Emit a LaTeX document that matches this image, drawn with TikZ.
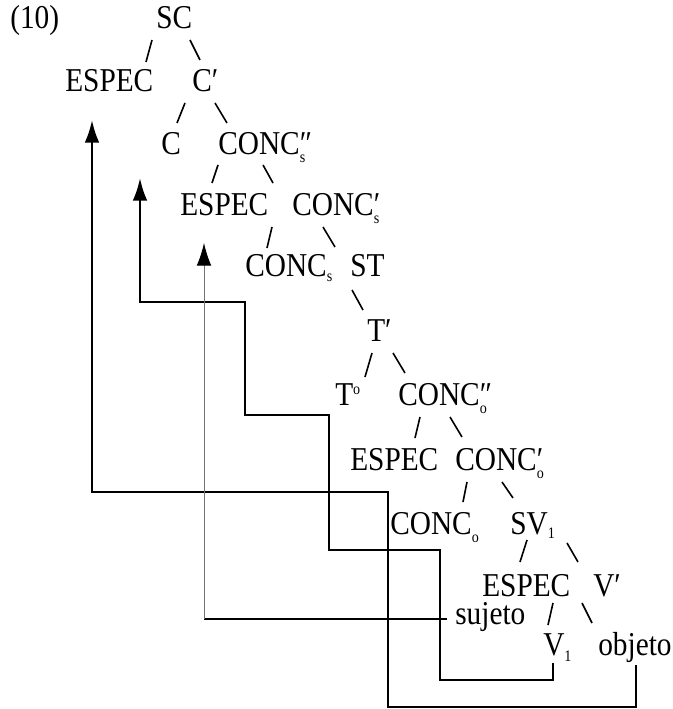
\documentclass[tikz,border=0pt]{standalone}
\usepackage{fontspec}
\setmainfont{Liberation Serif}[FakeStretch=0.88]
\usetikzlibrary{arrows.meta,calc}

% subscript lowered below the baseline, and prime stacked over a subscript
\newcommand\lo[2][-6pt]{\raisebox{#1}{\fontsize{12pt}{12pt}\selectfont #2}}
\newcommand\pl[2]{\rlap{#1}\lo{#2}}

\tikzset{
  lab/.style={anchor=base west, inner sep=0pt, font=\fontsize{25pt}{29pt}\selectfont},
  branch/.style={line width=1.2pt},
  mv/.style={line width=1.8pt},
  thinmv/.style={line width=0.7pt, black!55},
  tip/.style={-{Latex[length=17pt,width=11pt,color=black]}},
}

\begin{document}
\begin{tikzpicture}[x=0.75pt,y=-0.75pt]
\useasboundingbox (0,0) rectangle (673,709);

% tree labels
\node[lab] (n10)  at (10,29)   {(10)};
\node[lab] (SC)   at (156,29)  {SC};
\node[lab] (E1)   at (65,92)   {ESPEC};
\node[lab] (Cb)   at (192,92)  {C′};
\node[lab] (C)    at (161,155) {C};
\node[lab] (CSpp) at (218,155) {CONC\pl{″}{s}};
\node[lab] (E2)   at (180,215) {ESPEC};
\node[lab] (CSp)  at (292,215) {CONC\pl{′}{s}};
\node[lab] (CS)   at (245,276) {CONC\lo[-4pt]{s}};
\node[lab] (ST)   at (350,276) {ST};
\node[lab] (Tb)   at (367,341) {T′};
\node[lab] (T0)   at (335,405) {T\lo[8pt]{o}};
\node[lab] (COpp) at (398,405) {CONC\pl{″}{o}};
\node[lab] (E3)   at (350,470) {ESPEC};
\node[lab] (COp)  at (455,470) {CONC\pl{′}{o}};
\node[lab] (CO)   at (390,534) {CONC\lo{o}};
\node[lab] (SV)   at (510,534) {SV\lo[-3pt]{1}};
\node[lab] (E4)   at (482,596) {ESPEC};
\node[lab] (Vb)   at (593,596) {V′};
\node[lab] (suj)  at (455,624) {sujeto};
\node[lab] (V1)   at (543,655) {V\lo[-5pt]{1}};
\node[lab] (obj)  at (598,655) {objeto};

% branch strokes
\draw[branch] (152,40)  -- (146,62);
\draw[branch] (190,40)  -- (200,60);
\draw[branch] (185,103) -- (177,123);
\draw[branch] (215,103) -- (227,123);
\draw[branch] (218,165) -- (212,183);
\draw[branch] (263,165) -- (273,183);
\draw[branch] (272,227) -- (267,248);
\draw[branch] (323,227) -- (335,247);
\draw[branch] (352,290) -- (363,310);
\draw[branch] (372,353) -- (365,377);
\draw[branch] (393,353) -- (405,373);
\draw[branch] (420,417) -- (415,438);
\draw[branch] (450,417) -- (462,437);
\draw[branch] (467,482) -- (463,502);
\draw[branch] (502,482) -- (513,498);
\draw[branch] (527,540) -- (520,562);
\draw[branch] (567,543) -- (578,562);
\draw[branch] (553,603) -- (548,625);
\draw[branch] (582,603) -- (592,623);

% movement of the object to the top specifier
\draw[mv,tip] ($(obj.south)+(1,3)$) |- (388,707) |- (92,492) -- (92,120);
% movement of the verb
\draw[mv,tip] ($(V1.base west)+(10,8)$) |- (440,680) |- (329,550) |- (245,415) |- (140,302) -- (140,178);
% movement of the subject
\draw[mv] ($(suj.base west)+(-8,-5)$) -- (204,619);
\draw[thinmv,tip] (204,619) -- (204,243);
\end{tikzpicture}
\end{document}
